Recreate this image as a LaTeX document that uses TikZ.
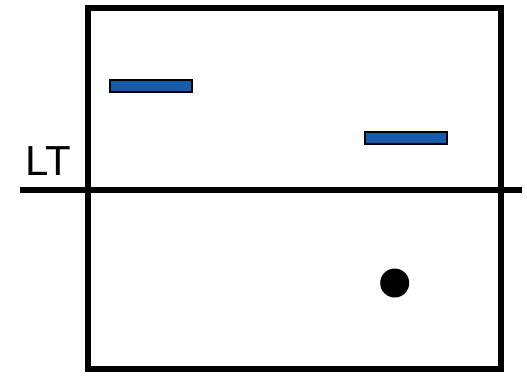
\documentclass[tikz,border=0pt]{standalone}
\usepackage{fontspec}
\setmainfont{Liberation Sans}
\definecolor{barblue}{RGB}{23,92,170}
\begin{document}
\begin{tikzpicture}[x=1pt,y=-1pt,
  frame/.style={draw=black,line width=6pt},
  bar/.style={draw=black,line width=2pt,fill=barblue},
  dot/.style={circle,fill=black,inner sep=0pt,minimum size=29pt}]
\useasboundingbox (0,0) rectangle (527,376);
\draw[frame] (87.5,8) rectangle (501,369);
\coordinate (l) at (19.5,190);
\coordinate (r) at (522,190);
\draw[frame] (l) -- (r);
\draw[bar] (110,79.5) rectangle (192,91.5);
\draw[bar] (365,132) rectangle (447,143.5);
\node[dot] (d) at (394.7,283) {};
\node[anchor=base west,inner sep=0pt,font=\fontsize{42}{42}\selectfont] (lt) at (25,175.5) {LT};
\end{tikzpicture}
\end{document}
